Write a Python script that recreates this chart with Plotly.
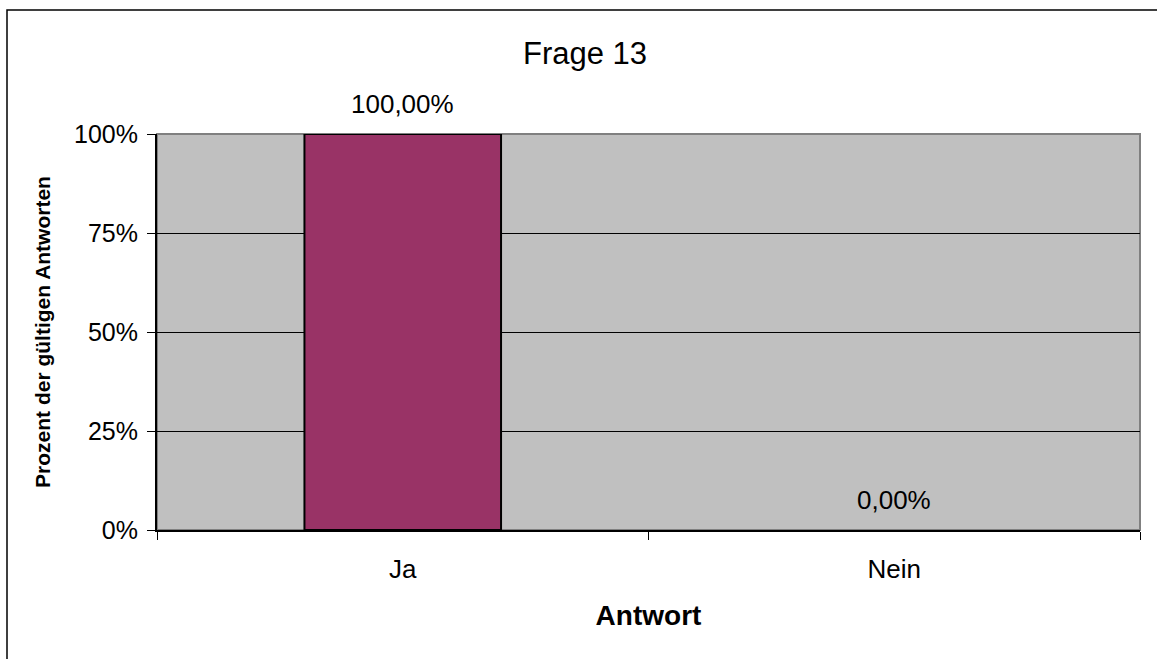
import plotly.graph_objects as go

# Survey result for question 13
categories = ["Ja", "Nein"]
percent_values = [100.0, 0.0]
y_tick_values = [0, 25, 50, 75, 100]
y_tick_labels = ["0%", "25%", "50%", "75%", "100%"]

W, H = 1157, 659
L, R, T, B = 157, 17, 134, 129
plot_w, plot_h = W - L - R, H - T - B

FONT = "Arial, Liberation Sans, sans-serif"


def pct_label(v):
    return f"{v:.2f}".replace(".", ",") + "%"


fig = go.Figure()
fig.add_trace(go.Bar(
    x=categories,
    y=percent_values,
    width=0.4,
    marker=dict(color="#993366",
                line=dict(color="black", width=[2 if v > 0 else 0 for v in percent_values])),
    hoverinfo="skip",
))

# value labels above each bar
for cat, v in zip(categories, percent_values):
    fig.add_annotation(
        x=cat, y=v, text=pct_label(v), showarrow=False,
        yanchor="middle", yshift=30,
        font=dict(family=FONT, size=26, color="black"),
    )

# plot area frame (grey top/right edges)
fig.add_shape(type="rect", xref="paper", yref="paper", x0=0, x1=1, y0=0, y1=1,
              line=dict(color="#808080", width=2), layer="between")

# outer chart border (left and top edges visible, the rest runs off the page)
fig.add_shape(type="rect", xref="paper", yref="paper",
              x0=(7 - L) / plot_w, x1=(W + 10 - L) / plot_w,
              y0=-(B + 10) / plot_h, y1=(H - B - 10) / plot_h,
              line=dict(color="black", width=1.5), fillcolor="rgba(0,0,0,0)", layer="above")

fig.update_layout(
    width=W, height=H,
    margin=dict(l=L, r=R, t=T, b=B, pad=0),
    paper_bgcolor="white",
    plot_bgcolor="#C0C0C0",
    showlegend=False,
    font=dict(family=FONT, color="black"),
    title=dict(text="Frage 13", x=(585 / W), xanchor="center",
               y=1 - 53 / H, yanchor="middle", yref="container",
               font=dict(family=FONT, size=31, color="black")),
)

fig.update_xaxes(
    type="category",
    showline=True, linecolor="black", linewidth=2,
    ticks="outside", tickson="boundaries", ticklen=8, tickcolor="black", tickwidth=1,
    ticklabelstandoff=15,
    tickfont=dict(family=FONT, size=26, color="black"),
    showgrid=False,
    title=dict(text="<b>Antwort</b>", font=dict(family=FONT, size=28, color="black"), standoff=22),
)

fig.update_yaxes(
    range=[0, 100],
    tickvals=y_tick_values, ticktext=y_tick_labels,
    showline=True, linecolor="black", linewidth=2,
    ticks="outside", ticklen=8, tickcolor="black", tickwidth=1,
    ticklabelstandoff=4,
    tickfont=dict(family=FONT, size=25, color="black"),
    showgrid=True, gridcolor="black", gridwidth=1,
    zeroline=False,
    title=dict(text="<b>Prozent der gültigen Antworten</b>",
               font=dict(family=FONT, size=21, color="black"), standoff=18),
)

fig.write_html("out.html")
